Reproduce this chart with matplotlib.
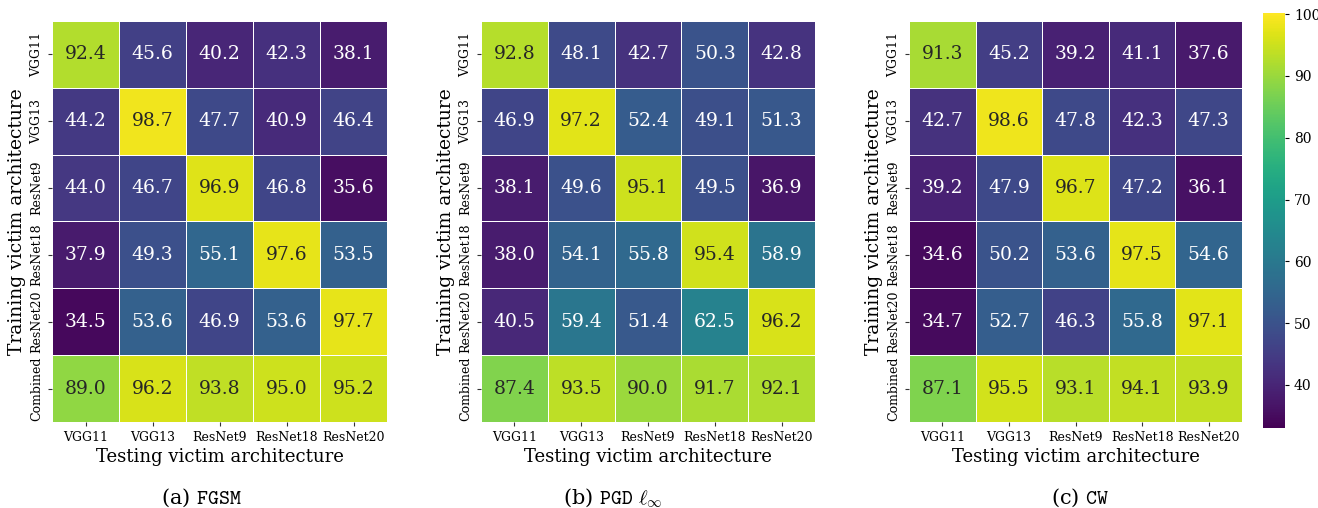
import numpy as np
import matplotlib
matplotlib.use("Agg")
import matplotlib.pyplot as plt
import seaborn as sns

plt.rcParams["font.family"] = ["DejaVu Serif"]
plt.rcParams["mathtext.fontset"] = "cm"

architectures_train = ["VGG11", "VGG13", "ResNet9", "ResNet18", "ResNet20", "Combined"]
architectures_test = ["VGG11", "VGG13", "ResNet9", "ResNet18", "ResNet20"]

fgsm = [
    [92.4, 45.6, 40.2, 42.3, 38.1],
    [44.2, 98.7, 47.7, 40.9, 46.4],
    [44.0, 46.7, 96.9, 46.8, 35.6],
    [37.9, 49.3, 55.1, 97.6, 53.5],
    [34.5, 53.6, 46.9, 53.6, 97.7],
    [89.0, 96.2, 93.8, 95.0, 95.2],
]
pgd_linf = [
    [92.8, 48.1, 42.7, 50.3, 42.8],
    [46.9, 97.2, 52.4, 49.1, 51.3],
    [38.1, 49.6, 95.1, 49.5, 36.9],
    [38.0, 54.1, 55.8, 95.4, 58.9],
    [40.5, 59.4, 51.4, 62.5, 96.2],
    [87.4, 93.5, 90.0, 91.7, 92.1],
]
cw = [
    [91.3, 45.2, 39.2, 41.1, 37.6],
    [42.7, 98.6, 47.8, 42.3, 47.3],
    [39.2, 47.9, 96.7, 47.2, 36.1],
    [34.6, 50.2, 53.6, 97.5, 54.6],
    [34.7, 52.7, 46.3, 55.8, 97.1],
    [87.1, 95.5, 93.1, 94.1, 93.9],
]
captions = [r"(a) $\mathtt{FGSM}$", r"(b) $\mathtt{PGD}\ \ell_\infty$", r"(c) $\mathtt{CW}$"]

W, H = 1318, 508
fig = plt.figure(figsize=(W / 100, H / 100), dpi=100)

def px_axes(x0, y0, x1, y1):
    return fig.add_axes([x0 / W, 1 - y1 / H, (x1 - x0) / W, (y1 - y0) / H])

panel_px = [(52, 21, 387, 422), (481, 21, 815, 422), (909, 21, 1242, 422)]
caption_x = [201, 613, 1080]
cax = px_axes(1263, 13, 1285, 428)

vmin, vmax = 33.0, 100.2
for i, (data, cap, box, capx) in enumerate(zip([fgsm, pgd_linf, cw], captions, panel_px, caption_x)):
    ax = px_axes(*box)
    sns.heatmap(
        np.array(data), ax=ax, cmap="viridis", vmin=vmin, vmax=vmax,
        annot=True, fmt=".1f", annot_kws={"fontsize": 13.5},
        linewidths=0.5, linecolor="white",
        cbar=(i == 2), cbar_ax=cax if i == 2 else None,
        xticklabels=architectures_test, yticklabels=architectures_train,
    )
    ax.tick_params(axis="both", labelsize=9, length=3, width=0.8, color="#333333")
    ax.set_yticklabels(architectures_train, rotation=90, va="center")
    ax.set_xticklabels(architectures_test, rotation=0)
    ax.set_xlabel("Testing victim architecture", fontsize=13, labelpad=3)
    ax.set_ylabel("Training victim architecture", fontsize=13.5, labelpad=3)
    fig.text(capx / W, 1 - 498 / H, cap, ha="center", va="center", fontsize=15)

cax.tick_params(labelsize=10, length=3, width=0.8)
cax.set_yticks([40, 50, 60, 70, 80, 90, 100])

fig.savefig("out.png", dpi=100)
